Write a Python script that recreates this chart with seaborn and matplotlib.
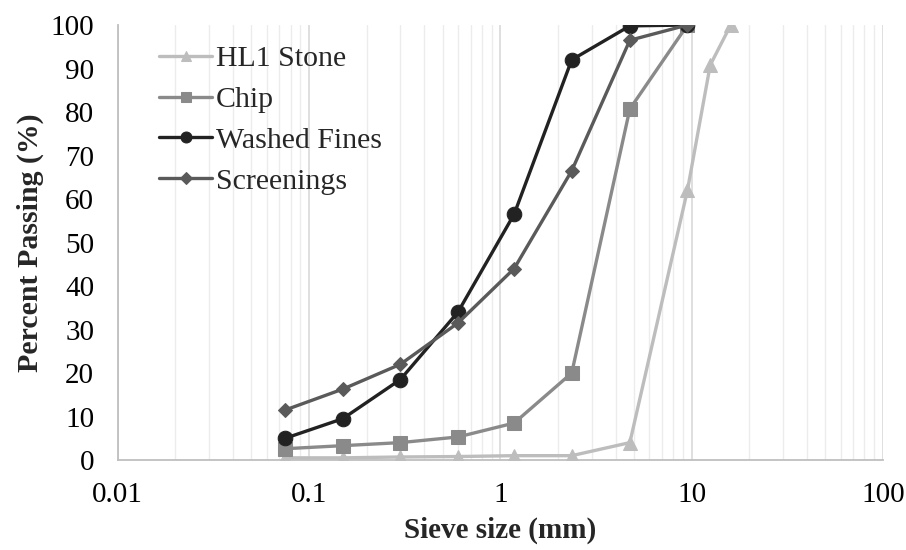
import numpy as np
import pandas as pd
import matplotlib.pyplot as plt
import seaborn as sns
from matplotlib.ticker import LogLocator, FixedLocator, FixedFormatter

# Datos de granulometria (tamiz en mm, % que pasa)
tamiz_hl1 = [0.075, 0.15, 0.3, 0.6, 1.18, 2.36, 4.75, 9.5, 12.5, 16]
hl1_stone = [0.5, 0.5, 0.7, 0.8, 1.0, 1.0, 4.0, 62.0, 90.8, 100.0]

tamiz = [0.075, 0.15, 0.3, 0.6, 1.18, 2.36, 4.75, 9.5]
chip = [2.6, 3.3, 4.0, 5.3, 8.5, 20.0, 80.7, 100.0]
washed_fines = [5.0, 9.5, 18.5, 34.0, 56.5, 92.0, 99.8, 100.0]
screenings = [11.5, 16.3, 22.0, 31.5, 44.0, 66.5, 96.5, 100.0]

x_ticks = [0.01, 0.1, 1, 10, 100]
x_labels = ['0.01', '0.1', '1', '10', '100']

sns.set_style('white')
plt.rcParams['font.family'] = ['Liberation Serif', 'DejaVu Serif']

fig = plt.figure(figsize=(9.06, 5.5), dpi=100)
ax = fig.add_axes([0.130, 0.1636, 0.8446, 0.7909])

series = [
    ('HL1 Stone', tamiz_hl1, hl1_stone, '#bdbdbd', '^', 10),
    ('Chip', tamiz, chip, '#8a8a8a', 's', 9.5),
    ('Washed Fines', tamiz, washed_fines, '#222222', 'o', 10.5),
    ('Screenings', tamiz, screenings, '#5a5a5a', 'D', 7.5),
]
for nombre, xs, ys, color, marker, ms in series:
    df = pd.DataFrame({'x': xs, 'y': ys})
    sns.lineplot(data=df, x='x', y='y', ax=ax, color=color, marker=marker,
                 markersize=ms, markeredgecolor=color, linewidth=2.4,
                 label=nombre, zorder=3)

ax.set_xscale('log')
ax.set_xlim(0.01, 100)
ax.set_ylim(0, 100)
ax.set_yticks(range(0, 101, 10))

ax.xaxis.set_major_locator(FixedLocator(x_ticks))
ax.xaxis.set_major_formatter(FixedFormatter(x_labels))
ax.xaxis.set_minor_locator(LogLocator(base=10, subs=np.arange(2, 10)))
ax.grid(False)
ax.grid(True, which='major', axis='x', color='#d9d9d9', linewidth=1.2)
ax.grid(True, which='minor', axis='x', color='#ececec', linewidth=1.0)
ax.tick_params(axis='both', which='both', length=0, labelsize=21, colors='black')
ax.tick_params(axis='x', pad=16)
ax.tick_params(axis='y', pad=17)

for lado in ['top', 'right']:
    ax.spines[lado].set_visible(False)
for lado in ['left', 'bottom']:
    ax.spines[lado].set_color('#bfbfbf')
    ax.spines[lado].set_linewidth(1.3)

ax.set_xlabel('Sieve size (mm)', fontsize=21, fontweight='bold', labelpad=6)
ax.set_ylabel('Percent Passing (%)', fontsize=21.5, fontweight='bold', labelpad=5)

leg = ax.legend(loc='upper left', bbox_to_anchor=(0.03, 0.995), frameon=False,
                fontsize=21.5, handlelength=1.8, handletextpad=0.12,
                labelspacing=0.47, borderaxespad=0.2, markerscale=0.75)

plt.savefig('out.png', dpi=100)
